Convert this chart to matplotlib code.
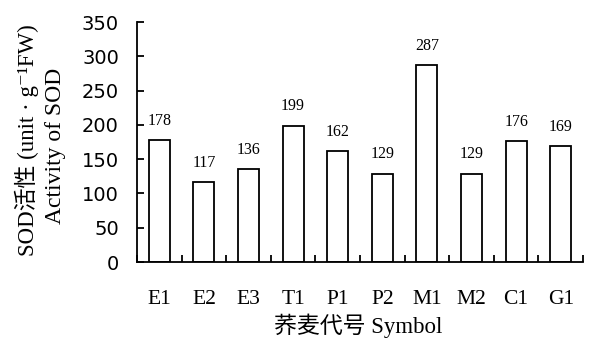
import matplotlib
matplotlib.use("Agg")
import matplotlib.pyplot as plt
import numpy as np

categories = ["E1", "E2", "E3", "T1", "P1", "P2", "M1", "M2", "C1", "G1"]
values = [178, 117, 136, 199, 162, 129, 287, 129, 176, 169]
yticks = [0, 50, 100, 150, 200, 250, 300, 350]

serif_cjk = ["Liberation Serif", "Noto Sans CJK SC", "DejaVu Serif"]

fig = plt.figure(figsize=(5.91, 3.42), dpi=100)
ax = fig.add_axes([137/591, 1-262/342, (583-137)/591, (262-22)/342])

x = np.arange(len(categories))
ax.bar(x, values, width=0.47, color="white", edgecolor="black", linewidth=1.3)
for xi, v in zip(x, values):
    ax.annotate(str(v), (xi, v), xytext=(0, 8), textcoords="offset points",
                ha="center", va="bottom", fontsize=11.5, family="Liberation Serif")

ax.set_xlim(-0.5, len(categories) - 0.5)
ax.set_ylim(0, 350)
ax.set_yticks(yticks)
ax.set_yticklabels([str(t) for t in yticks], family="DejaVu Sans", fontsize=14)
ax.tick_params(axis="y", direction="in", length=5, width=1.3, pad=13)

# x ticks at category boundaries (pointing up), labels at centers
ax.set_xticks(np.arange(len(categories) + 1) - 0.5)
ax.set_xticklabels([])
ax.tick_params(axis="x", direction="in", length=5, width=1.3)
ax.set_xticks(x, minor=True)
ax.set_xticklabels(categories, minor=True, family="Liberation Serif", fontsize=15.5)
ax.tick_params(axis="x", which="minor", length=0, pad=20)

for s in ["top", "right"]:
    ax.spines[s].set_visible(False)
for s in ["left", "bottom"]:
    ax.spines[s].set_linewidth(1.3)

fig.text(358/591, 1-326/342, "荞麦代号 Symbol", ha="center", va="center",
         family=serif_cjk, fontsize=16.5)
fig.text(27/591, 1-140/342, "SOD活性 (unit · g⁻¹FW)", rotation=90, ha="center", va="center",
         family=serif_cjk, fontsize=16.5)
fig.text(55/591, 1-146/342, "Activity of SOD", rotation=90, ha="center", va="center",
         family="Liberation Serif", fontsize=17)

fig.savefig("out.png", dpi=100)
